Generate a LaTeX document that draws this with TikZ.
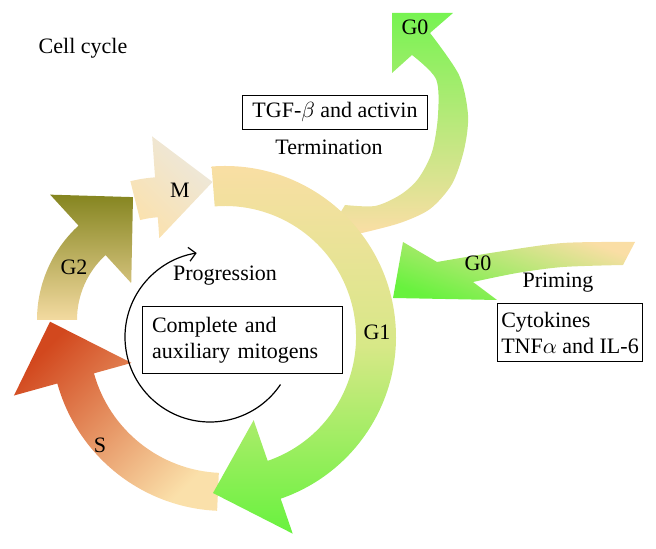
\documentclass[tikz,border=0pt]{standalone}
\usepackage{fontspec}
\setmainfont{Liberation Serif}
\usetikzlibrary{arrows.meta}
\definecolor{peach}{RGB}{250,222,165}
\definecolor{lime}{RGB}{215,232,135}
\definecolor{leafgreen}{RGB}{104,242,62}
\definecolor{rust}{RGB}{210,72,30}
\definecolor{olive}{RGB}{133,133,32}
\definecolor{tan}{RGB}{243,218,160}
\definecolor{ash}{RGB}{236,232,222}
\tikzset{
    txt/.style = {font=\fontsize{11}{13}\selectfont, inner sep=0},
    factor/.style = {draw, line width=0.5pt, align=left, font=\fontsize{11}{13}\selectfont},
    progress/.style = {line width=0.6pt, -{Straight Barb[length=3.5pt,width=7pt]}}
}
\tikzset{
    g1band/.style = {top color=peach, bottom color=leafgreen, middle color=lime},
    sband/.style = {top color=rust, bottom color=peach!95!white, shading angle=45},
    g2band/.style = {top color=olive, bottom color=tan},
    mband/.style = {top color=ash, bottom color=peach!90!white, shading angle=-45},
    g0band/.style = {top color=leafgreen!90!white, bottom color=peach},
    primeband/.style = {top color=peach, bottom color=leafgreen, shading angle=-20}
}
\begin{document}
\begin{tikzpicture}[x=0.5pt,y=0.5pt]
        % arc arrow: style, from, to, inner r, outer r, inner barb, outer barb, tip angle, tip r
        \newcommand*\phasearrow[9]{%
            \path[#1] (#2:#5) arc[start angle=#2, end angle=#3, radius=#5]
                -- (#3:#7) -- (#8:#9) -- (#3:#6) -- (#3:#4)
                arc[start angle=#3, end angle=#2, radius=#4] -- cycle;}
        \useasboundingbox (0,0) rectangle (656,549);
        % S phase
        \begin{scope}[shift={(225,212)}]
            \phasearrow{sband}{-92.6}{-164.5}{136}{174}{97}{219}{-185}{175.6}
        \end{scope}
        % G2 and M
        \begin{scope}[shift={(165,229)}]
            \phasearrow{g2band}{180}{132.5}{88}{128}{50}{170}{104.6}{127}
            \phasearrow{mband}{104}{94}{103}{143}{82}{184}{71}{146}
        \end{scope}
        % Termination branch to G0
        \path[g0band] plot[smooth] coordinates {(362,316) (400,326) (430,340) (452,365)
                (464,399) (468,434) (459,474) (430,516)}
            -- (453,536) -- (392,536) -- (392,476)
            -- plot[smooth] coordinates {(412,494) (436,470) (438,434) (432,397)
                (418,370) (400,354) (375,343) (345,344)}
            -- (330,319) -- cycle;
        % G1 phase
        \begin{scope}[shift={(225,212)}]
            \phasearrow{g1band}{94.5}{-71}{131}{171}{88}{208}{-94.4}{156.5}
        \end{scope}
        % Priming from G0
        \path[primeband] plot[smooth] coordinates {(635,307) (563,306) (497,297) (437,287)}
            -- (403,307) -- (393,251) -- (497,249)
            -- plot[smooth] coordinates {(473,267) (517,276) (563,282) (623,284)}
            -- cycle;
        % Progression loop
        \coordinate (loop) at (210,212);
        \draw[progress] ([shift={(-34:85)}]loop) arc[start angle=-34, end angle=-261, radius=85];
        % Labels
        \node[txt] (cellcycle) at (83,501) {Cell cycle};
        \node[factor, inner xsep=5pt, inner ysep=3.5pt] (tgf) at (335,436.5) {TGF-$\beta$ and activin};
        \node[txt] (termination) at (329,402) {Termination};
        \node[txt] (mlbl) at (180,359) {M};
        \node[txt] (g2lbl) at (74,282) {G2};
        \node[txt] (progression) at (225,273) {Progression};
        \node[factor, text width=90pt, inner sep=5pt] (mitogens) at (242,209)
            {Complete and\\auxiliary mitogens};
        \node[txt] (g1lbl) at (377,217) {G1};
        \node[txt] (slbl) at (100,104) {S};
        \node[txt] (g0low) at (478,286) {G0};
        \node[txt] (priming) at (558,266) {Priming};
        \node[factor, inner xsep=2pt, inner ysep=4pt] (cytokines) at (570,216.5)
            {Cytokines\\TNF$\alpha$ and IL-6};
        \node[txt] (g0top) at (415,522) {G0};
\end{tikzpicture}
\end{document}
